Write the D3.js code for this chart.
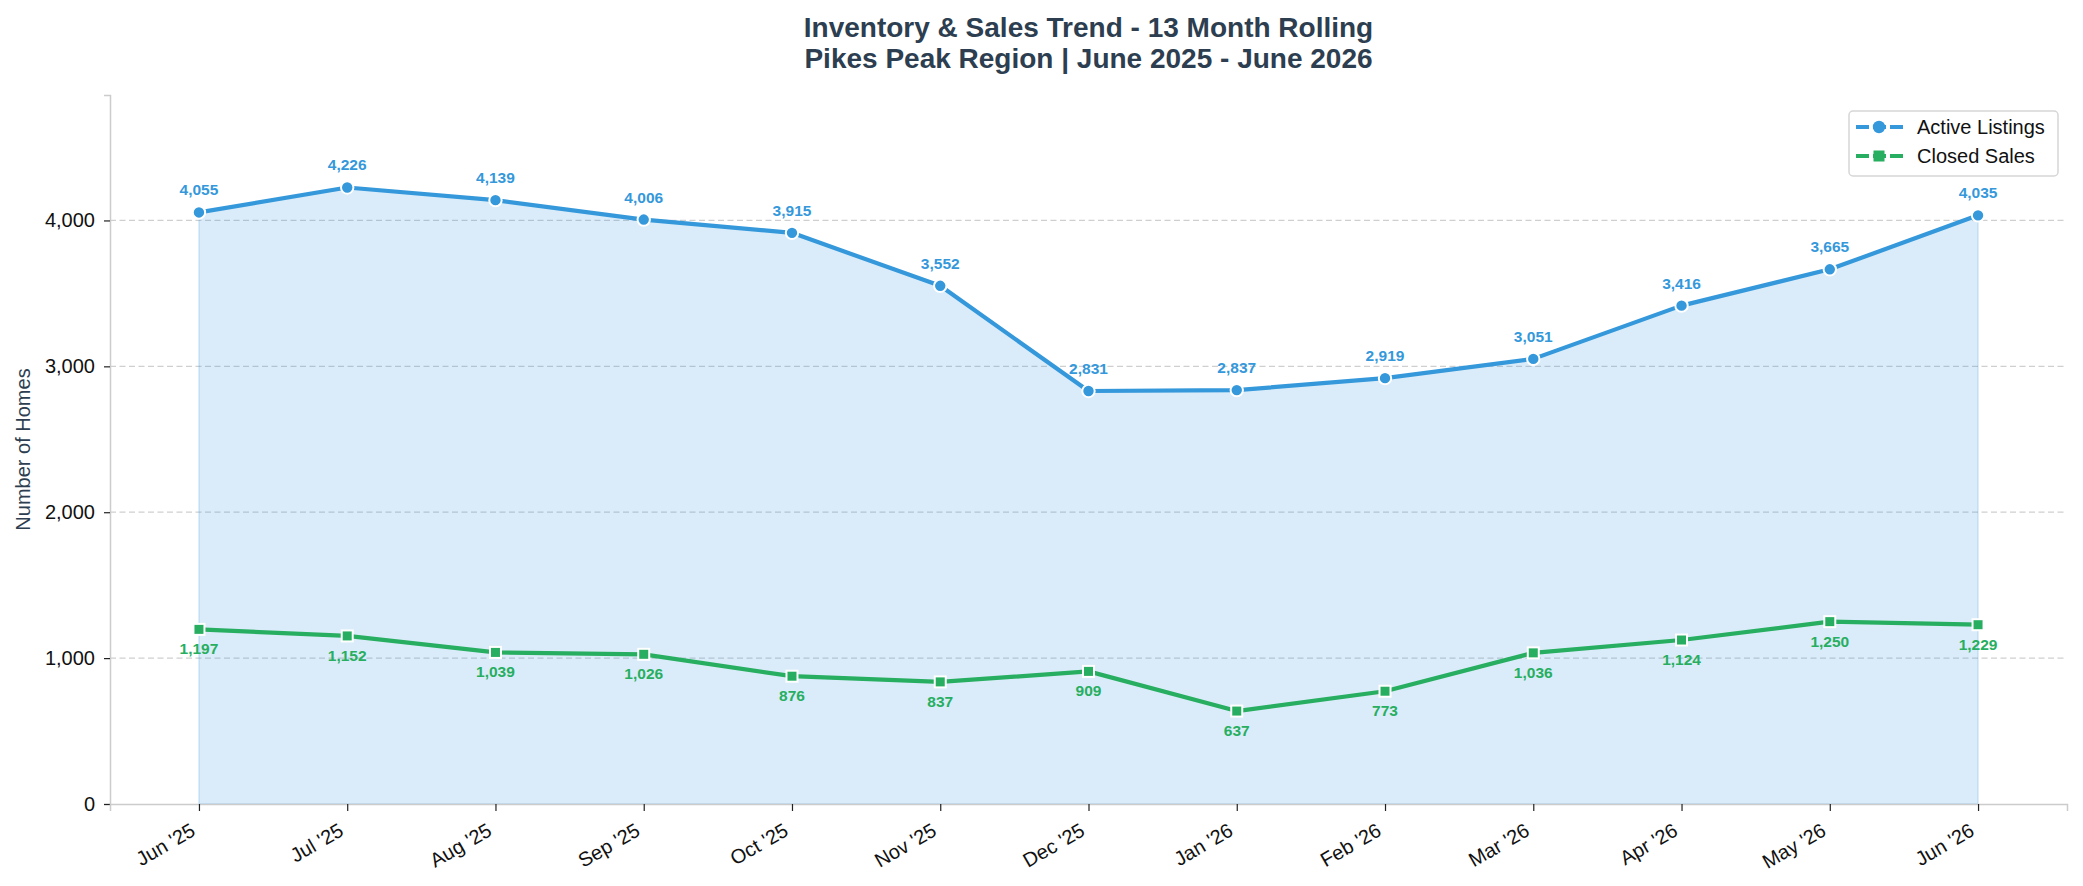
<!DOCTYPE html>
<html>
<head>
<meta charset="utf-8">
<script src="https://cdn.jsdelivr.net/npm/d3@7"></script>
<style>
  body { margin: 0; background: #fff; }
  text { font-family: "Liberation Sans", Arial, sans-serif; }
</style>
</head>
<body>
<div id="chart"></div>
<script>
// Data
const months = ["Jun '25", "Jul '25", "Aug '25", "Sep '25", "Oct '25", "Nov '25", "Dec '25",
                "Jan '26", "Feb '26", "Mar '26", "Apr '26", "May '26", "Jun '26"];
const activeListings = [4055, 4226, 4139, 4006, 3915, 3552, 2831, 2837, 2919, 3051, 3416, 3665, 4035];
const closedSales = [1197, 1152, 1039, 1026, 876, 837, 909, 637, 773, 1036, 1124, 1250, 1229];
const yTicks = [0, 1000, 2000, 3000, 4000];
const titleLines = ["Inventory & Sales Trend - 13 Month Rolling", "Pikes Peak Region | June 2025 - June 2026"];

const blue = "#3498db", green = "#27ae60", dark = "#2c3e50";

const width = 2083, height = 886;
const margin = { top: 95, right: 16, bottom: 82, left: 110 };
const plotW = width - margin.left - margin.right;
const plotH = height - margin.top - margin.bottom;

const svg = d3.select("#chart")
  .append("svg")
  .attr("width", width)
  .attr("height", height);

// index scale with matplotlib-like 5% padding
const n = months.length;
const pad = (n - 1) * 0.05;
const x = d3.scaleLinear().domain([-pad, n - 1 + pad]).range([0, plotW]);
const y = d3.scaleLinear().domain([0, d3.max(activeListings) * 1.15]).range([plotH, 0]);

const g = svg.append("g").attr("transform", `translate(${margin.left},${margin.top})`);

// Title
svg.append("g")
  .selectAll("text")
  .data(titleLines)
  .join("text")
  .attr("x", margin.left + plotW / 2)
  .attr("y", (d, i) => 37 + i * 31)
  .attr("text-anchor", "middle")
  .attr("fill", dark)
  .style("font-size", "28px")
  .style("font-weight", "bold")
  .text(d => d);

// grid
g.append("g")
  .selectAll("line")
  .data(yTicks.filter(t => t > 0))
  .join("line")
  .attr("x1", 0)
  .attr("x2", plotW)
  .attr("y1", d => y(d))
  .attr("y2", d => y(d))
  .attr("stroke", "#cfcfcf")
  .attr("stroke-width", 1.2)
  .attr("stroke-dasharray", "6,3.5");

// area under active listings
const area = d3.area()
  .x((d, i) => x(i))
  .y0(y(0))
  .y1(d => y(d));

g.append("path")
  .datum(activeListings)
  .attr("d", area)
  .attr("fill", blue)
  .attr("fill-opacity", 0.18)
  .attr("stroke", blue)
  .attr("stroke-opacity", 0.2)
  .attr("stroke-width", 1.5);

// axes
const yAxis = d3.axisLeft(y)
  .tickValues(yTicks)
  .tickSize(6)
  .tickPadding(9)
  .tickFormat(d3.format(","));

const yG = g.append("g").call(yAxis);
yG.select(".domain").attr("stroke", "#cccccc").attr("stroke-width", 1.5);
yG.selectAll(".tick line").attr("stroke", "#222").attr("stroke-width", 1.2);
yG.selectAll(".tick text")
  .attr("fill", "#111")
  .style("font-size", "20px")
  .style("font-family", "'Liberation Sans', Arial, sans-serif");

const xAxis = d3.axisBottom(x)
  .tickValues(d3.range(n))
  .tickSize(7)
  .tickFormat(i => months[i]);

const xG = g.append("g").attr("transform", `translate(0,${plotH})`).call(xAxis);
xG.select(".domain").attr("stroke", "#cccccc").attr("stroke-width", 1.5);
xG.selectAll(".tick line").attr("stroke", "#222").attr("stroke-width", 1.2);
xG.selectAll(".tick text")
  .attr("fill", "#111")
  .attr("x", 0)
  .attr("y", 0)
  .attr("dy", "0.72em")
  .attr("text-anchor", "end")
  .attr("transform", "translate(-10,18) rotate(-30)")
  .style("font-size", "20px")
  .style("font-family", "'Liberation Sans', Arial, sans-serif");

// y label
svg.append("text")
  .attr("transform", `translate(30,${margin.top + plotH / 2}) rotate(-90)`)
  .attr("text-anchor", "middle")
  .attr("fill", dark)
  .style("font-size", "20px")
  .text("Number of Homes");

// lines
const line = d3.line().x((d, i) => x(i)).y(d => y(d));

g.append("path")
  .datum(activeListings)
  .attr("d", line)
  .attr("fill", "none")
  .attr("stroke", blue)
  .attr("stroke-width", 4.2)
  .attr("stroke-linejoin", "round");

g.append("path")
  .datum(closedSales)
  .attr("d", line)
  .attr("fill", "none")
  .attr("stroke", green)
  .attr("stroke-width", 4.2)
  .attr("stroke-linejoin", "round");

// markers
g.append("g")
  .selectAll("circle")
  .data(activeListings)
  .join("circle")
  .attr("cx", (d, i) => x(i))
  .attr("cy", d => y(d))
  .attr("r", 6.2)
  .attr("fill", blue)
  .attr("stroke", "#fff")
  .attr("stroke-width", 2);

const sq = 11;
g.append("g")
  .selectAll("rect")
  .data(closedSales)
  .join("rect")
  .attr("x", (d, i) => x(i) - sq / 2)
  .attr("y", d => y(d) - sq / 2)
  .attr("width", sq)
  .attr("height", sq)
  .attr("fill", green)
  .attr("stroke", "#fff")
  .attr("stroke-width", 2);

// value labels
g.append("g")
  .selectAll("text")
  .data(activeListings)
  .join("text")
  .attr("x", (d, i) => x(i))
  .attr("y", d => y(d) - 17)
  .attr("text-anchor", "middle")
  .attr("fill", blue)
  .style("font-size", "15.5px")
  .style("font-weight", "bold")
  .text(d => d3.format(",")(d));

g.append("g")
  .selectAll("text")
  .data(closedSales)
  .join("text")
  .attr("x", (d, i) => x(i))
  .attr("y", d => y(d) + 25)
  .attr("text-anchor", "middle")
  .attr("fill", green)
  .style("font-size", "15.5px")
  .style("font-weight", "bold")
  .text(d => d3.format(",")(d));

// legend
const legendItems = [
  { name: "Active Listings", color: blue, shape: "circle" },
  { name: "Closed Sales", color: green, shape: "square" }
];
const lg = svg.append("g").attr("transform", "translate(1849,111)");
lg.append("rect")
  .attr("width", 209)
  .attr("height", 65)
  .attr("rx", 4)
  .attr("fill", "#fff")
  .attr("fill-opacity", 0.85)
  .attr("stroke", "#d6d6d6")
  .attr("stroke-width", 1.5);

const rows = lg.selectAll("g.row")
  .data(legendItems)
  .join("g")
  .attr("class", "row")
  .attr("transform", (d, i) => `translate(0,${16 + i * 29})`);

rows.append("line")
  .attr("x1", 7).attr("x2", 54)
  .attr("stroke", d => d.color)
  .attr("stroke-width", 4.2)
  .attr("stroke-dasharray", "13,4,13,4,13");

rows.filter(d => d.shape === "circle").append("circle")
  .attr("cx", 30).attr("r", 6.2)
  .attr("fill", d => d.color);

rows.filter(d => d.shape === "square").append("rect")
  .attr("x", 30 - sq / 2).attr("y", -sq / 2)
  .attr("width", sq).attr("height", sq)
  .attr("fill", d => d.color);

rows.append("text")
  .attr("x", 68)
  .attr("dy", "0.35em")
  .attr("fill", "#111")
  .style("font-size", "20px")
  .text(d => d.name);
</script>
</body>
</html>
